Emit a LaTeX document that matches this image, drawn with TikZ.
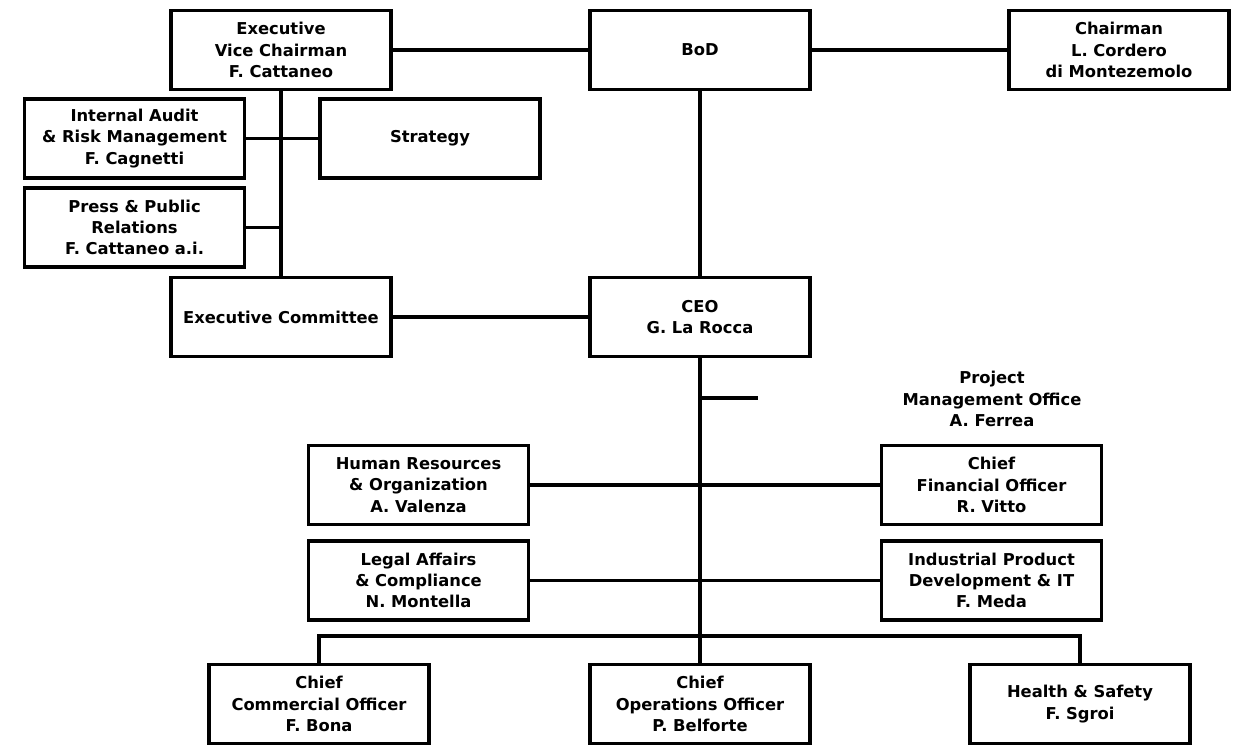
\documentclass[tikz,border=0pt]{standalone}
\usepackage{fontspec}
\setmainfont{DejaVu Sans}
\usetikzlibrary{positioning}

\begin{document}
\begin{tikzpicture}[x=0.02cm,y=-0.02cm,
    orgbox/.style={draw,line width=1.8pt,rectangle,minimum width=4.4cm,minimum height=1.58cm,
        align=center,inner sep=0pt,font=\fontsize{9.3}{12.1}\selectfont\bfseries},
    orgtext/.style={align=center,inner sep=0pt,font=\fontsize{9.3}{12.1}\selectfont\bfseries},
    link/.style={line width=1.8pt}]
            \useasboundingbox (0,0) rectangle (1241,746);

            \node[orgbox](vc) at (281,50){Executive\\Vice Chairman\\F. Cattaneo};
            \node[orgbox](bod) at (700,50){BoD};
            \node[orgbox](chair) at (1119,50){Chairman\\L. Cordero\\di Montezemolo};
            \node[orgbox](audit) at (134.5,138.5){Internal Audit\\\& Risk Management\\F. Cagnetti};
            \node[orgbox](strategy) at (430,138.5){Strategy};
            \node[orgbox](press) at (134.5,227.5){Press \& Public\\Relations\\F. Cattaneo a.i.};
            \node[orgbox](excom) at (281,317){Executive Committee};
            \node[orgbox](ceo) at (700,317){CEO\\G. La Rocca};

            \node[orgtext](pmo) at (992,399){Project\\Management Office\\A. Ferrea};

            \node[orgbox](hr) at (418.5,485){Human Resources\\\& Organization\\A. Valenza};
            \node[orgbox](legal) at (418.5,580.5){Legal Affairs\\\& Compliance\\N. Montella};
            \node[orgbox](cfo) at (991.5,485){Chief\\Financial Officer\\R. Vitto};
            \node[orgbox](ipd) at (991.5,580.5){Industrial Product\\Development \& IT\\F. Meda};

            \node[orgbox](cco) at (319,704){Chief\\Commercial Officer\\F. Bona};
            \node[orgbox](coo) at (700,704){Chief\\Operations Officer\\P. Belforte};
            \node[orgbox](hs) at (1080,704){Health \& Safety\\F. Sgroi};

            \coordinate (pmotick) at (758,398);
            \coordinate (bar) at (700,636);

            \draw[link](vc)--(bod);
            \draw[link](bod)--(chair);
            \draw[link](bod)--(ceo);
            \draw[link](vc.south)--(excom.north);
            \draw[link](audit)--(strategy);
            \draw[link](press.east)--(press.east-|vc.south);
            \draw[link](excom)--(ceo);

            \draw[link](ceo.south)--(coo.north);
            \draw[link](pmotick-|ceo.south)--(pmotick);
            \draw[link](hr)--(cfo);
            \draw[link](legal)--(ipd);
            \draw[link](cco.north)|-(bar)-|(hs.north);

        \end{tikzpicture}
\end{document}
